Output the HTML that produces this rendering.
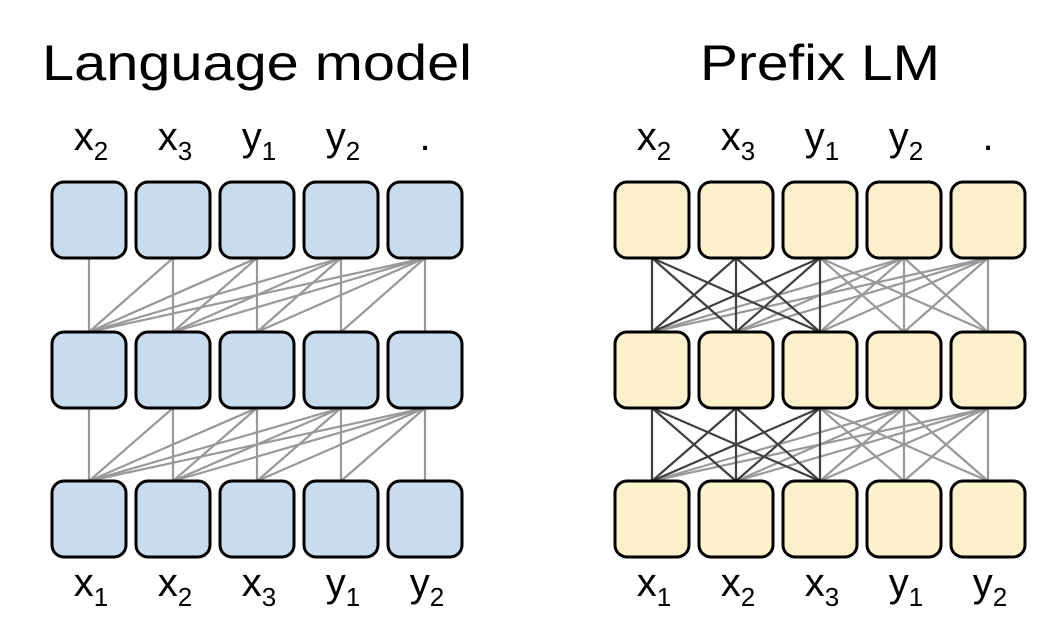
<!DOCTYPE html>
<html><head><style>
body{margin:0;background:#fff;width:1045px;height:635px;overflow:hidden}
text{font-family:"Liberation Sans",sans-serif;fill:#000}
</style></head><body>
<svg width="1045" height="635" xmlns="http://www.w3.org/2000/svg">
<text x="42" y="80" font-size="50" textLength="430" lengthAdjust="spacingAndGlyphs">Language model</text>
<text x="700" y="80" font-size="50" textLength="240" lengthAdjust="spacingAndGlyphs">Prefix LM</text>
<g id="lines" stroke-width="2.2"></g>
<g id="boxes"></g>
<g id="labels" font-size="40" text-anchor="middle"></g>
</svg>
<script>
(function(){
const ns="http://www.w3.org/2000/svg";
const L=[89,173,257,341,425],R=[652,736,820,904,988];
const rows=[[182,258],[332,408],[481,557]];
const lines=document.getElementById('lines'),boxes=document.getElementById('boxes'),labels=document.getElementById('labels');
function ln(x1,y1,x2,y2,c){const l=document.createElementNS(ns,'line');l.setAttribute('x1',x1);l.setAttribute('y1',y1);l.setAttribute('x2',x2);l.setAttribute('y2',y2);l.setAttribute('stroke',c);lines.appendChild(l);}
const gaps=[[258,332],[408,481]];
for(const g of gaps){
 for(let i=0;i<5;i++)for(let j=i;j<5;j++)ln(L[i],g[1],L[j],g[0],'#999');
 for(let i=0;i<5;i++)for(let j=0;j<5;j++){
  if(i<3&&j<3)continue;
  if(j>=i||j>=2)ln(R[i],g[1],R[j],g[0],'#999');
 }
 for(let i=0;i<3;i++)for(let j=0;j<3;j++)ln(R[i],g[1],R[j],g[0],'#404040');
}
const sets=[[L,'#c9dcee'],[R,'#fdf0cc']];
for(const s of sets)for(const c of s[0])for(const r of rows){
 const b=document.createElementNS(ns,'rect');b.setAttribute('x',c-37);b.setAttribute('y',r[0]);b.setAttribute('width',74);b.setAttribute('height',r[1]-r[0]);b.setAttribute('rx',12);b.setAttribute('fill',s[1]);b.setAttribute('stroke','#000');b.setAttribute('stroke-width',3);boxes.appendChild(b);}
function lab(x,y,s,sub){const t=document.createElementNS(ns,'text');t.setAttribute('x',x);t.setAttribute('y',y);t.textContent=s;if(sub){const ts=document.createElementNS(ns,'tspan');ts.setAttribute('font-size','26');ts.setAttribute('dy','10');ts.textContent=sub;t.appendChild(ts);}labels.appendChild(t);}
const topL=[['x','2'],['x','3'],['y','1'],['y','2'],['.','']],botL=[['x','1'],['x','2'],['x','3'],['y','1'],['y','2']];
for(const cs of [L,R])for(let i=0;i<5;i++){lab(cs[i]+(topL[i][1]?2:0),150,topL[i][0],topL[i][1]);lab(cs[i]+2,596,botL[i][0],botL[i][1]);}
})();
</script>
</body></html>
